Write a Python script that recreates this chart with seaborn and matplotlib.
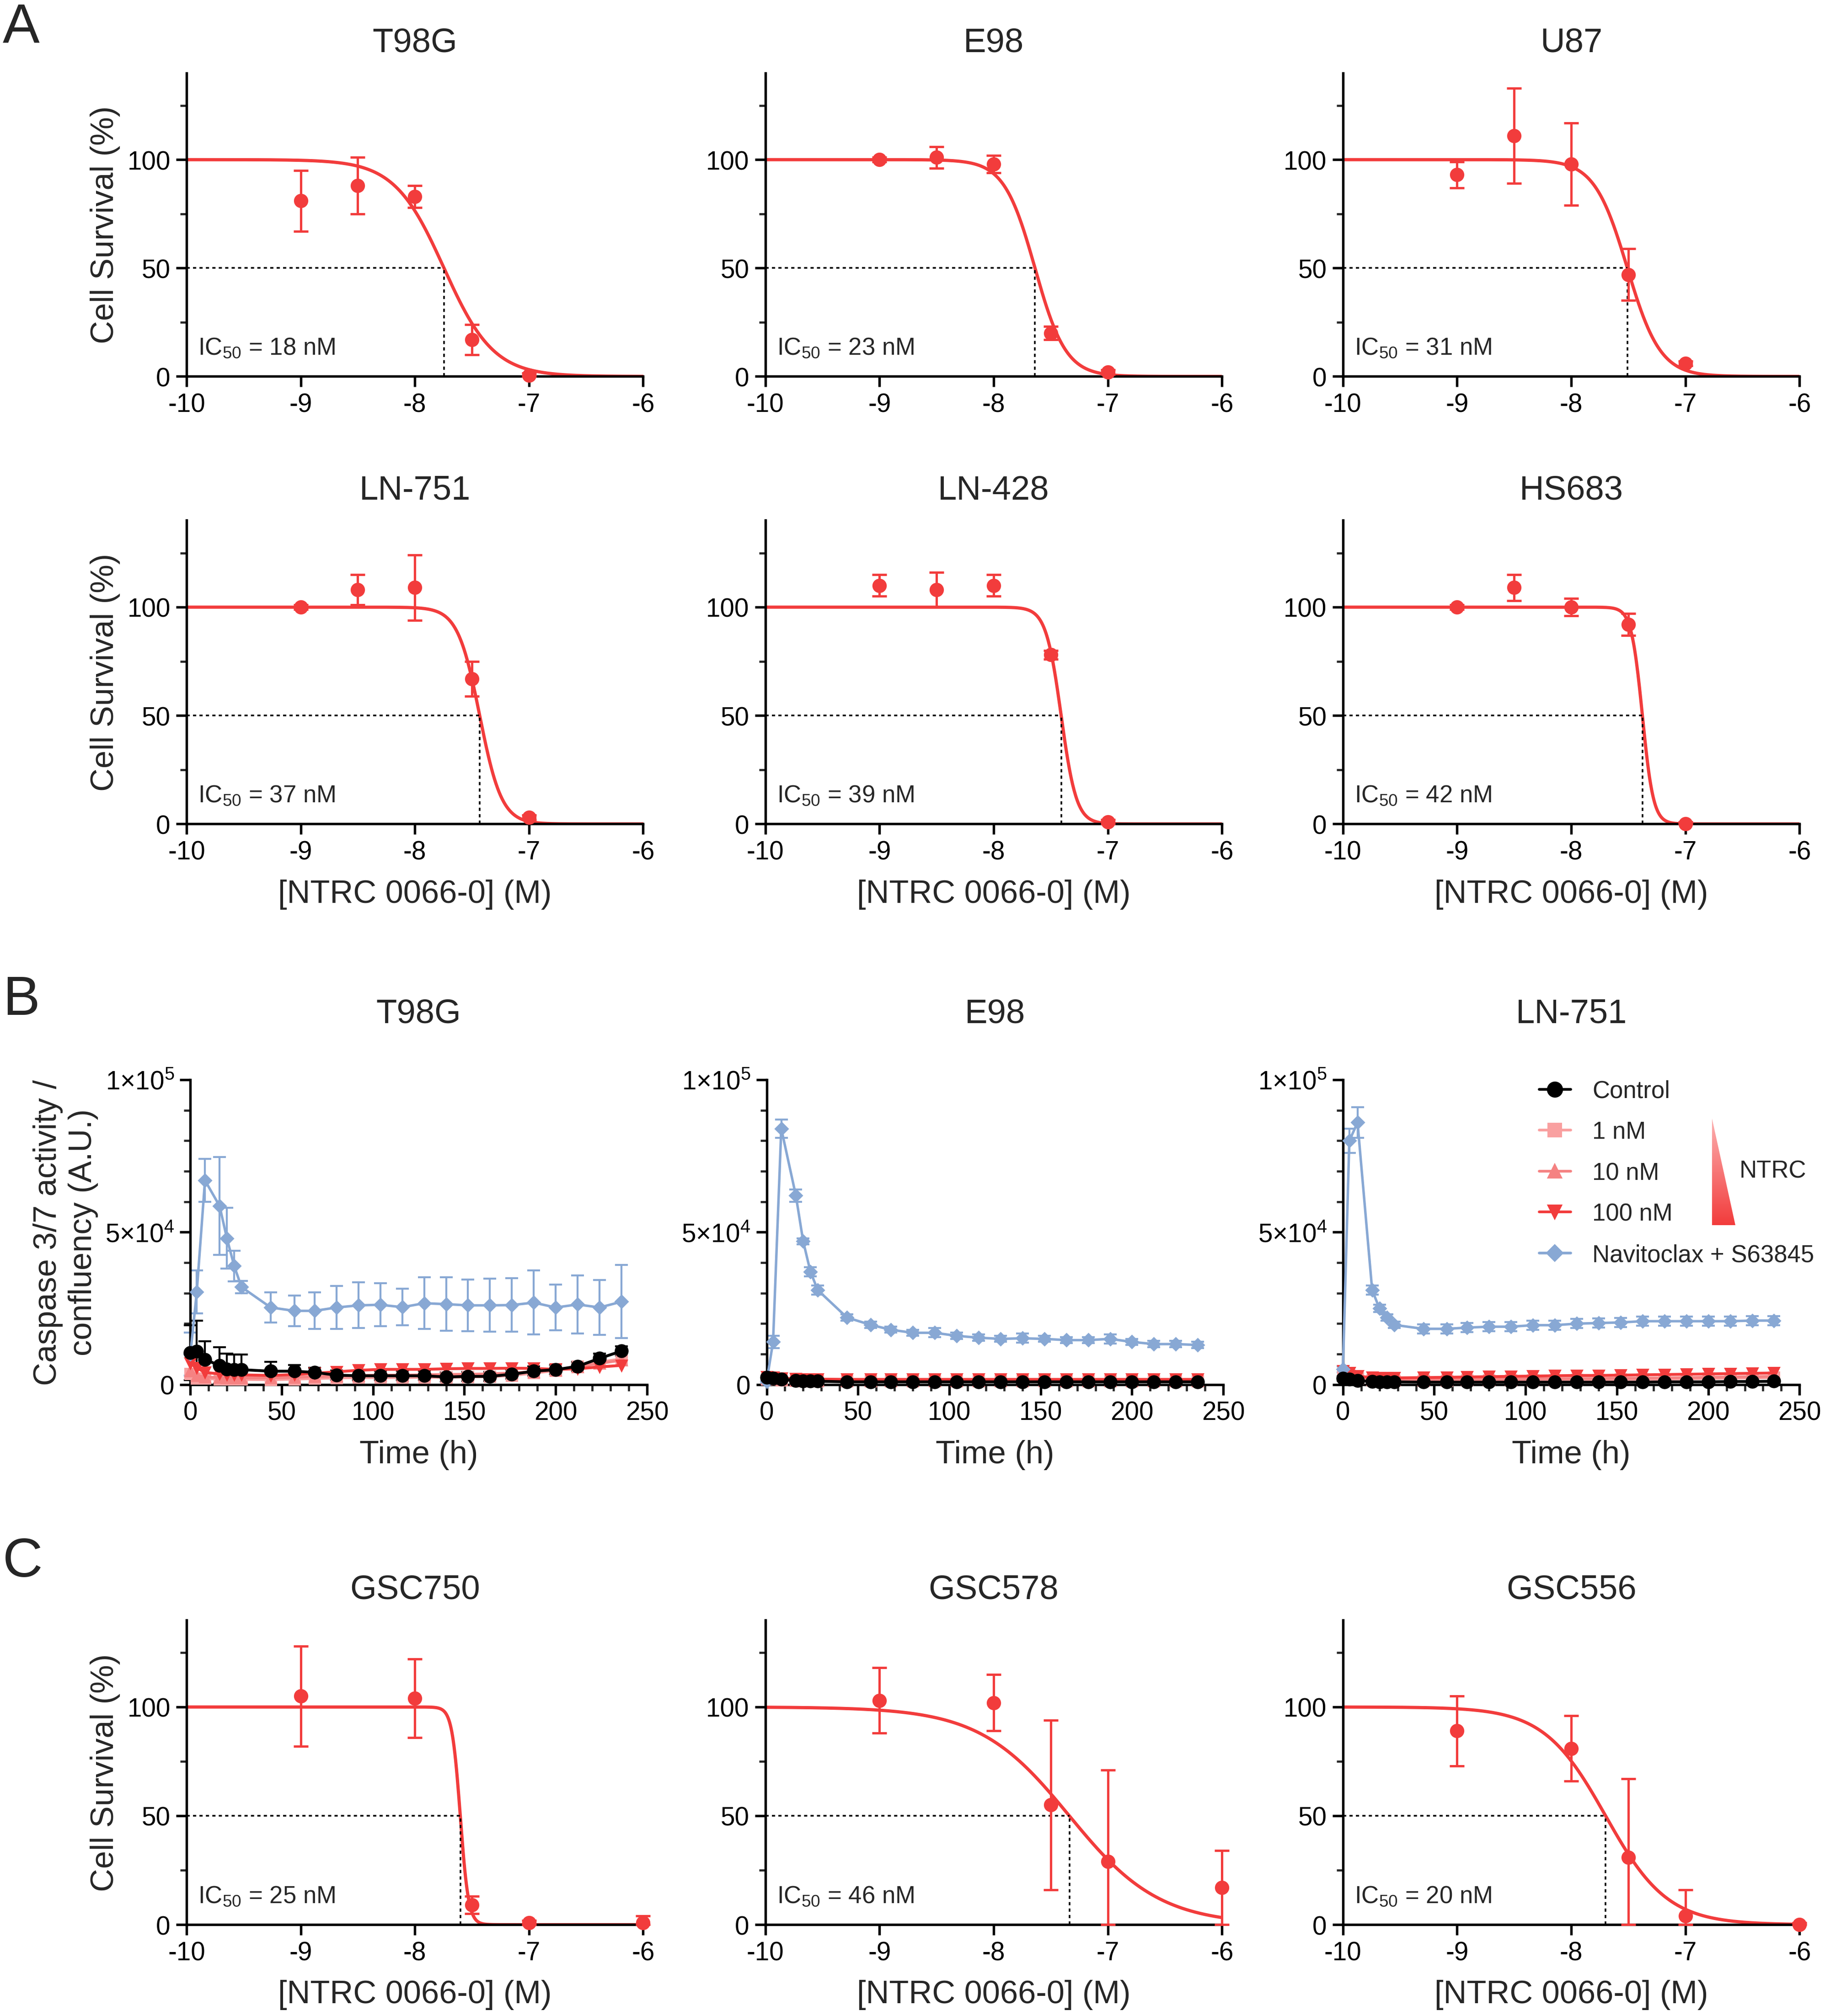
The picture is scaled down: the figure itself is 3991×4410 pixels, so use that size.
import numpy as np
import pandas as pd
import seaborn as sns
import matplotlib.pyplot as plt
from matplotlib.patches import Polygon
from matplotlib.ticker import MultipleLocator, FixedLocator
from matplotlib.colors import LinearSegmentedColormap

sns.set_theme(style="ticks")
plt.rcParams['font.family'] = ['Liberation Sans', 'DejaVu Sans']
plt.rcParams['mathtext.fontset'] = 'custom'
plt.rcParams['mathtext.rm'] = 'Liberation Sans'

RED = '#F23C3C'
BLUE = '#88A8D4'
PINK1 = '#F9A0A0'
PINK10 = '#F58282'

# ---------------- Dose response data ----------------
lines_A = ["T98G", "E98", "U87", "LN-751", "LN-428", "HS683"]
dose_A = [-9, -8.5, -8, -7.5, -7]
surv_A = {
    "T98G": [81, 88, 83, 17, 0.5],
    "E98": [100, 101, 98, 20, 2],
    "U87": [93, 111, 98, 47, 6],
    "LN-751": [100, 108, 109, 67, 3],
    "LN-428": [110, 108, 110, 78, 1],
    "HS683": [100, 109, 100, 92, 0],
}
err_A = {
    "T98G": [14, 13, 5, 7, 1],
    "E98": [1, 5, 4, 3, 1],
    "U87": [6, 22, 19, 12, 1],
    "LN-751": [1, 7, 15, 8, 1],
    "LN-428": [5, 8, 5, 2, 1],
    "HS683": [1, 6, 4, 5, 1],
}
ic50_A = {"T98G": 18, "E98": 23, "U87": 31, "LN-751": 37, "LN-428": 39, "HS683": 42}
hill_A = {"T98G": 2.0, "E98": 3.2, "U87": 3.0, "LN-751": 4.5, "LN-428": 6.5, "HS683": 9.0}

lines_C = ["GSC750", "GSC578", "GSC556"]
dose_C = [-9, -8, -7.5, -7, -6]
surv_C = {
    "GSC750": [105, 104, 9, 1, 1],
    "GSC578": [103, 102, 55, 29, 17],
    "GSC556": [89, 81, 31, 4, 0],
}
err_C = {
    "GSC750": [23, 18, 4, 1, 3],
    "GSC578": [15, 13, 39, 42, 17],
    "GSC556": [16, 15, 36, 12, 1],
}
ic50_C = {"GSC750": 25, "GSC578": 46, "GSC556": 20}
hill_C = {"GSC750": 12.0, "GSC578": 1.1, "GSC556": 1.6}

# ---------------- Caspase time course data ----------------
time_h = [0, 3.5, 8, 16, 20, 24, 28, 44, 57, 68, 80, 92, 104, 116, 128, 140, 152, 164, 176, 188, 200, 212, 224, 236]
lines_B = ["T98G", "E98", "LN-751"]
casp = {
    "T98G": {
        "Control": [10500, 10900, 8200, 6300, 5100, 4900, 4900, 4400, 4400, 4000, 3100, 2900, 2900, 2900, 2900, 2500, 2700, 2700, 3400, 4400, 4900, 6000, 8600, 11000],
        "1 nM": [3500, 2000, 2000, 1800, 1700, 1700, 1700, 1600, 1800, 2000, 2200, 2300, 2300, 2300, 2400, 2400, 2500, 2600, 3000, 3800, 4600, 6000, 7400, 8400],
        "10 nM": [4500, 3000, 2500, 2300, 2200, 2200, 2200, 2200, 2400, 2600, 2800, 3000, 3100, 3100, 3200, 3300, 3400, 3500, 3800, 4200, 4800, 5800, 7000, 8000],
        "100 nM": [7000, 5500, 4000, 3500, 3300, 3200, 3200, 3000, 3300, 3700, 4200, 4700, 5000, 5000, 5000, 5200, 5300, 5300, 5400, 5300, 5000, 5200, 5800, 6300],
        "Navitoclax + S63845": [10000, 30400, 67000, 58600, 48000, 38900, 32000, 25300, 24200, 24200, 25300, 26000, 26200, 25400, 26700, 26400, 26000, 26000, 26100, 26900, 25300, 26300, 25300, 27200],
    },
    "E98": {
        "Control": [2300, 2100, 1800, 1300, 1200, 1200, 1100, 900, 900, 900, 900, 900, 900, 900, 900, 900, 900, 900, 900, 900, 900, 900, 900, 900],
        "1 nM": [1800, 1700, 1500, 1300, 1200, 1200, 1200, 1100, 1100, 1100, 1100, 1100, 1100, 1100, 1100, 1100, 1100, 1100, 1100, 1100, 1100, 1100, 1100, 1100],
        "10 nM": [2000, 1900, 1700, 1500, 1400, 1400, 1400, 1300, 1300, 1300, 1300, 1300, 1300, 1300, 1300, 1300, 1300, 1300, 1300, 1300, 1300, 1300, 1300, 1300],
        "100 nM": [2500, 2300, 2100, 1900, 1800, 1800, 1800, 1700, 1700, 1700, 1700, 1700, 1700, 1700, 1700, 1700, 1700, 1700, 1700, 1700, 1700, 1700, 1700, 1700],
        "Navitoclax + S63845": [1000, 14000, 84000, 62000, 47000, 37000, 31000, 22000, 19600, 18000, 17000, 17000, 16000, 15400, 15000, 15200, 15000, 14600, 14600, 15000, 14000, 13300, 13300, 13000],
    },
    "LN-751": {
        "Control": [2000, 1700, 1300, 1000, 900, 900, 900, 800, 800, 800, 800, 800, 800, 800, 800, 800, 800, 800, 900, 900, 900, 1000, 1000, 1100],
        "1 nM": [3500, 3000, 2000, 1500, 1400, 1300, 1300, 1300, 1300, 1400, 1400, 1500, 1500, 1500, 1600, 1600, 1700, 1700, 1800, 1900, 2000, 2100, 2200, 2300],
        "10 nM": [4000, 3300, 2300, 1800, 1600, 1600, 1600, 1600, 1700, 1700, 1800, 1800, 1900, 1900, 2000, 2000, 2100, 2100, 2200, 2300, 2400, 2500, 2600, 2700],
        "100 nM": [4500, 3800, 2800, 2300, 2200, 2200, 2200, 2300, 2400, 2500, 2600, 2700, 2800, 2900, 3000, 3000, 3100, 3200, 3300, 3400, 3500, 3600, 3700, 3800],
        "Navitoclax + S63845": [5000, 80000, 86000, 31000, 25000, 22000, 19600, 18300, 18300, 18700, 19000, 19000, 19500, 19500, 20000, 20200, 20400, 20800, 20800, 20800, 20800, 20800, 21000, 21000],
    },
}
casp_err = {
    "T98G": {
        "Control": [9000, 10000, 6000, 6000, 5000, 5000, 5000, 3000, 2000, 1500, 1500, 1500, 1500, 1500, 1500, 1500, 1500, 1500, 1500, 1500, 1500, 1500, 1500, 1500],
        "Navitoclax + S63845": [7000, 7000, 7000, 16000, 10000, 5000, 2000, 5000, 5000, 6000, 7000, 7500, 7000, 6000, 8500, 8800, 8500, 8700, 8800, 10500, 7500, 9500, 9000, 12000],
    },
    "E98": {
        "Control": [500] * 24,
        "Navitoclax + S63845": [500, 2000, 3000, 2000, 1000, 1500, 1500, 1000, 1000, 1000, 1000, 1500, 1000, 1000, 1000, 1500, 1000, 1000, 1000, 1500, 1000, 1000, 1000, 1000],
    },
    "LN-751": {
        "Control": [700] * 24,
        "Navitoclax + S63845": [1000, 4000, 5000, 1500, 1200, 1000, 1000, 1500, 1500, 1500, 1500, 1500, 1500, 1500, 1500, 1500, 1500, 1500, 1500, 1500, 1500, 1500, 1500, 1500],
    },
}
series_B = ["Control", "1 nM", "10 nM", "100 nM", "Navitoclax + S63845"]
style_B = {
    "Control": dict(color='black', marker='o', ms=7, lw=1.6),
    "1 nM": dict(color=PINK1, marker='s', ms=6, lw=1.6),
    "10 nM": dict(color=PINK10, marker='^', ms=6, lw=1.6),
    "100 nM": dict(color=RED, marker='v', ms=6, lw=1.6),
    "Navitoclax + S63845": dict(color=BLUE, marker='D', ms=5, lw=1.4),
}
draw_order = ["1 nM", "10 nM", "100 nM", "Navitoclax + S63845", "Control"]

def clipped_err(y, e):
    y = np.asarray(y, float)
    e = np.asarray(e, float)
    return np.vstack([np.minimum(e, y), e])

# ---------------- Figure ----------------
W, H = 1419, 1568
fig = plt.figure(figsize=(14.19, 15.68), dpi=281.3)

def ax_at(x0, x1, ytop, ybot):
    return fig.add_axes([x0 / W, 1 - ybot / H, (x1 - x0) / W, (ybot - ytop) / H])

col_x = [(145, 500), (595, 950), (1044, 1399)]
TITLE = 19
TICK = 14.5
LAB = 18

def style_axes(ax):
    sns.despine(ax=ax)
    for s in ['left', 'bottom']:
        ax.spines[s].set_linewidth(1.4)
        ax.spines[s].set_color('black')
    ax.tick_params(which='major', length=6, width=1.4, labelsize=TICK, colors='black', pad=3)
    ax.tick_params(which='minor', length=3.5, width=1.2)

def dose_panel(ax, name, xs, ys, es, ic50, hill, xlabel):
    logic = np.log10(ic50 * 1e-9)
    xc = np.linspace(-10, -6, 600)
    yc = 100 / (1 + 10 ** ((xc - logic) * hill))
    sns.lineplot(x=xc, y=yc, ax=ax, color=RED, lw=1.8, zorder=2)
    ax.errorbar(xs, ys, yerr=clipped_err(ys, es), fmt='none', ecolor=RED, elinewidth=1.3, capsize=4,
                capthick=1.3, zorder=3, clip_on=False)
    sns.scatterplot(x=xs, y=ys, ax=ax, color=RED, s=55, edgecolor=RED, zorder=4, clip_on=False)
    ax.plot([-10, logic], [50, 50], ls=(0, (2, 2)), color='black', lw=0.9)
    ax.plot([logic, logic], [0, 50], ls=(0, (2, 2)), color='black', lw=0.9)
    ax.set_xlim(-10, -6)
    ax.set_ylim(0, 140)
    ax.set_yticks([0, 50, 100])
    ax.yaxis.set_minor_locator(FixedLocator([25, 75, 125]))
    ax.set_xticks([-10, -9, -8, -7, -6])
    ax.set_xticklabels(['-10', '-9', '-8', '-7', '-6'])
    ax.text(-9.9, 13, r'IC$_{50}$ = %d nM' % ic50, fontsize=13.5, va='center', ha='left')
    ax.set_title(name, fontsize=TITLE, pad=12)
    style_axes(ax)
    ax.set_ylabel('Cell Survival (%)', fontsize=LAB)
    ax.set_xlabel(xlabel, fontsize=LAB, labelpad=8)

rowsA = [(57, 293), (405, 641)]
for i, name in enumerate(lines_A):
    r, c = divmod(i, 3)
    ax = ax_at(col_x[c][0], col_x[c][1], rowsA[r][0], rowsA[r][1])
    dose_panel(ax, name, dose_A, surv_A[name], err_A[name], ic50_A[name], hill_A[name],
               '[NTRC 0066-0] (M)' if r == 1 else '')
    if c != 0:
        ax.set_ylabel('')

for c, name in enumerate(lines_C):
    ax = ax_at(col_x[c][0], col_x[c][1], 1260, 1497)
    dose_panel(ax, name, dose_C, surv_C[name], err_C[name], ic50_C[name], hill_C[name], '[NTRC 0066-0] (M)')
    if c != 0:
        ax.set_ylabel('')

# Panel B
bx = [(148, 503), (596, 951), (1044, 1399)]
for c, name in enumerate(lines_B):
    ax = ax_at(bx[c][0], bx[c][1], 840, 1077)
    for s in draw_order:
        st = style_B[s]
        y = casp[name][s]
        if s in casp_err[name]:
            ax.errorbar(time_h, y, yerr=clipped_err(y, casp_err[name][s]), fmt='none', ecolor=st['color'],
                        elinewidth=1.1, capsize=3.5, capthick=1.1, zorder=2, clip_on=False)
        sns.lineplot(x=time_h, y=y, ax=ax, color=st['color'], marker=st['marker'], markersize=st['ms'],
                     markeredgecolor=st['color'], lw=st['lw'], label=s, legend=False, zorder=3, clip_on=False)
    ax.set_xlim(0, 250)
    ax.set_ylim(0, 100000)
    ax.set_xticks([0, 50, 100, 150, 200, 250])
    ax.xaxis.set_minor_locator(MultipleLocator(10))
    ax.set_yticks([0, 50000, 100000])
    ax.set_yticklabels(['0', r'5×10$^4$', r'1×10$^5$'])
    ax.yaxis.set_minor_locator(MultipleLocator(10000))
    ax.set_title(name, fontsize=TITLE, pad=32)
    style_axes(ax)
    ax.set_xlabel('Time (h)', fontsize=LAB, labelpad=8)
    if c == 0:
        ax.set_ylabel('Caspase 3/7 activity /\nconfluency (A.U.)', fontsize=LAB)
    if c == 2:
        handles = []
        for s in series_B:
            st = style_B[s]
            h, = ax.plot([], [], color=st['color'], marker=st['marker'], markersize=st['ms'] + 1, lw=1.5)
            handles.append(h)
        ax.legend(handles, series_B, loc='upper left', bbox_to_anchor=(0.43, 1.0), frameon=False,
                  fontsize=13.5, handlelength=1.3, handletextpad=0.9, labelspacing=0.75,
                  borderaxespad=0, borderpad=0)

# gradient triangle for NTRC
tri_ax = fig.add_axes([1331 / W, 1 - 953 / H, 18 / W, 83 / H])
grad = np.linspace(0, 1, 256).reshape(-1, 1)
cmap = LinearSegmentedColormap.from_list('g', ['#FCB0B0', '#F23C3C'])
im = tri_ax.imshow(grad, aspect='auto', cmap=cmap, extent=[0, 1, 1, 0])
tri = Polygon([[0, 0], [0, 1], [1, 1]], closed=True, transform=tri_ax.transData, facecolor='none', edgecolor='none')
tri_ax.add_patch(tri)
im.set_clip_path(tri)
tri_ax.set_xlim(0, 1)
tri_ax.set_ylim(1, 0)
tri_ax.axis('off')
fig.text(1352 / W, 1 - 911 / H, 'NTRC', fontsize=13.5, va='center', ha='left')

# panel letters
for letter, yy in [('A', 22), ('B', 778), ('C', 1215)]:
    fig.text(2 / W, 1 - yy / H, letter, fontsize=31, va='center', ha='left')

fig.savefig('out.png', dpi=281.3)
